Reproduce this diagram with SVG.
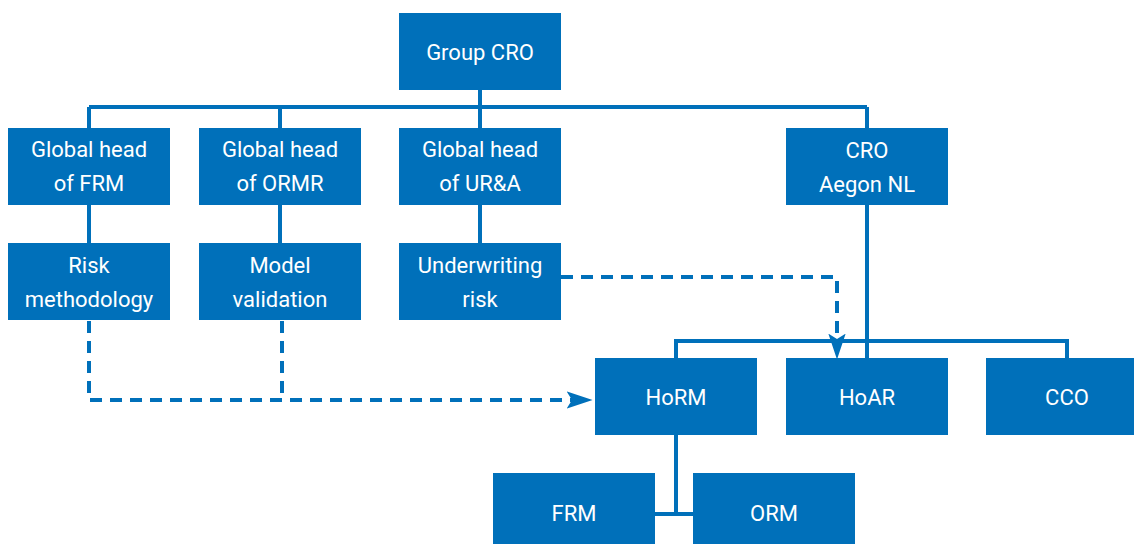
<svg xmlns="http://www.w3.org/2000/svg" width="1134" height="544" viewBox="0 0 1134 544">
<defs>
<style>
.box{fill:#0070BA}
.t{fill:#fff;font-family:Roboto,"Liberation Sans",sans-serif;font-size:22px;text-anchor:middle}
.ln{fill:none;stroke:#0070BA;stroke-width:4}
.dash{fill:none;stroke:#0070BA;stroke-width:4;stroke-dasharray:12 8}
</style>
<marker id="arr" markerUnits="userSpaceOnUse" markerWidth="26" markerHeight="18" refX="5" refY="8" orient="auto" viewBox="0 0 24 16">
<path d="M0,0 L24,8 L0,16 L5,8 Z" fill="#0070BA"/>
</marker>
</defs>
<rect width="1134" height="544" fill="#fff"/>
<g id="connectors">
<path class="ln" d="M89,107 H867 M480,90 V128 M89,107 V128 M280,107 V128 M867,107 V358"/>
<path class="ln" d="M89,205 V243 M280,205 V243 M480,205 V243"/>
<path class="ln" d="M676,341 H1067 M676,339 V358 M1067,339 V358"/>
<path class="ln" d="M676,435 V514 M655,514 H693"/>
<path class="dash" d="M89,321 V400 H572" marker-end="url(#arr)"/>
<path class="dash" d="M282,321 V400"/>
<path class="dash" d="M561,277 H837 V339" marker-end="url(#arr)"/>
</g>
<g id="group-cro"><rect class="box" x="399" y="13" width="162" height="77"/><text class="t" x="480" y="60">Group CRO</text></g>
<g id="head-frm"><rect class="box" x="8" y="128" width="162" height="77"/><text class="t" x="89" y="157">Global head</text><text class="t" x="89" y="191">of FRM</text></g>
<g id="head-ormr"><rect class="box" x="199" y="128" width="162" height="77"/><text class="t" x="280" y="157">Global head</text><text class="t" x="280" y="191">of ORMR</text></g>
<g id="head-ura"><rect class="box" x="399" y="128" width="162" height="77"/><text class="t" x="480" y="157">Global head</text><text class="t" x="480" y="191">of UR&amp;A</text></g>
<g id="cro-nl"><rect class="box" x="786" y="128" width="162" height="77"/><text class="t" x="867" y="158">CRO</text><text class="t" x="867" y="192">Aegon NL</text></g>
<g id="risk-meth"><rect class="box" x="8" y="243" width="162" height="77"/><text class="t" x="89" y="273">Risk</text><text class="t" x="89" y="307">methodology</text></g>
<g id="model-val"><rect class="box" x="199" y="243" width="162" height="77"/><text class="t" x="280" y="273">Model</text><text class="t" x="280" y="307">validation</text></g>
<g id="uw-risk"><rect class="box" x="399" y="243" width="162" height="77"/><text class="t" x="480" y="273">Underwriting</text><text class="t" x="480" y="307">risk</text></g>
<g id="horm"><rect class="box" x="595" y="358" width="162" height="77"/><text class="t" x="676" y="405">HoRM</text></g>
<g id="hoar"><rect class="box" x="786" y="358" width="162" height="77"/><text class="t" x="867" y="405">HoAR</text></g>
<g id="cco"><rect class="box" x="986" y="358" width="162" height="77"/><text class="t" x="1067" y="405">CCO</text></g>
<g id="frm"><rect class="box" x="493" y="473" width="162" height="77"/><text class="t" x="574" y="521">FRM</text></g>
<g id="orm"><rect class="box" x="693" y="473" width="162" height="77"/><text class="t" x="774" y="521">ORM</text></g>
</svg>
